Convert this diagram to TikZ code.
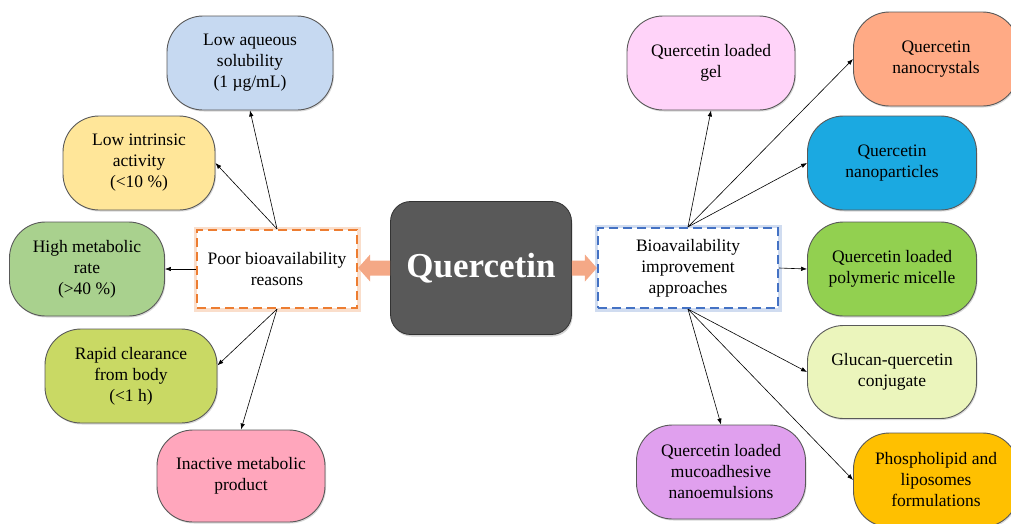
\documentclass[tikz,border=0pt]{standalone}
\usepackage{fontspec}
\setmainfont{Liberation Serif}
\usetikzlibrary{shadows,calc,arrows.meta}
\definecolor{aqc}{HTML}{C6D9F1}
\definecolor{lic}{HTML}{FFE699}
\definecolor{hmc}{HTML}{A9D18E}
\definecolor{rcc}{HTML}{C9D964}
\definecolor{imc}{HTML}{FFA6BC}
\definecolor{gelc}{HTML}{FFD3F9}
\definecolor{ncc}{HTML}{FFAA85}
\definecolor{npc}{HTML}{1BA9E1}
\definecolor{pmc}{HTML}{92D050}
\definecolor{gcc}{HTML}{EBF5BC}
\definecolor{muc}{HTML}{E0A0EE}
\definecolor{phc}{HTML}{FFC000}
\definecolor{darkc}{HTML}{595959}
\definecolor{orangec}{HTML}{ED7D31}
\definecolor{bluec}{HTML}{4472C4}
\definecolor{arrowc}{HTML}{F4A886}
\begin{document}
\begin{tikzpicture}[x=1pt,y=-1pt,
  leaf/.style={rounded corners=36pt, draw=black!65, line width=0.9pt, minimum height=94pt,
    align=center, font=\fontsize{17.5}{21}\selectfont, inner sep=2pt,
    drop shadow={opacity=0.3, shadow xshift=1pt, shadow yshift=-1.5pt}},
  dashbox/.style={fill=white, line width=2.2pt, dash pattern=on 9pt off 5pt,
    align=center, font=\fontsize{17.5}{21}\selectfont, inner sep=2pt},
  conn/.style={-{Latex[length=6pt,width=4.5pt]}, line width=0.6pt, black},
  barrow/.style={fill=arrowc}
]
\useasboundingbox (0,0) rectangle (1011,523);

% left leaves
\node[leaf, fill=aqc, minimum width=166pt] (aq) at (250,63) {Low aqueous\\solubility\\(1 µg/mL)};
\node[leaf, fill=lic, minimum width=152pt] (li) at (139,163) {Low intrinsic\\activity\\(<10 \%)};
\node[leaf, fill=hmc, minimum width=155pt] (hm) at (87,269) {High metabolic\\rate\\(>40 \%)};
\node[leaf, fill=rcc, minimum width=172pt] (rc) at (131,376) {Rapid clearance\\from body\\(<1 h)};
\node[leaf, fill=imc, minimum width=168pt, minimum height=92pt] (im) at (241,476) {Inactive metabolic\\product};

% right leaves
\node[leaf, fill=gelc, minimum width=168pt] (gel) at (711,63) {Quercetin loaded\\gel};
\node[leaf, fill=ncc, minimum width=165pt] (nc) at (936,59) {Quercetin\\nanocrystals};
\node[leaf, fill=npc, minimum width=169pt] (np) at (892,163) {Quercetin\\nanoparticles};
\node[leaf, fill=pmc, minimum width=169pt] (pm) at (892,269) {Quercetin loaded\\polymeric micelle};
\node[leaf, fill=gcc, minimum width=169pt, minimum height=93pt] (gc) at (892,372) {Glucan-quercetin\\conjugate};
\node[leaf, fill=muc, minimum width=169pt] (mu) at (721,472) {Quercetin loaded\\mucoadhesive\\nanoemulsions};
\node[leaf, fill=phc, minimum width=165pt] (ph) at (936,480) {Phospholipid and\\liposomes\\formulations};

% centre
\node[draw=black!80, line width=0.8pt, fill=darkc, rounded corners=20pt, minimum width=181pt,
  minimum height=133pt, text=white, font=\fontsize{35}{40}\selectfont\bfseries,
  drop shadow={opacity=0.35, shadow xshift=1pt, shadow yshift=-2pt}] (q) at (481,268) {Quercetin};

% dashed boxes
\node[dashbox, draw=orangec, minimum width=160pt, minimum height=78pt,
  preaction={draw=orangec, solid, line width=7pt, opacity=0.25}] (poor) at (277,269) {Poor bioavailability\\reasons};
\node[dashbox, draw=bluec, minimum width=180pt, minimum height=80pt,
  preaction={draw=bluec, solid, line width=7pt, opacity=0.25}] (ba) at (688,268) {Bioavailability\\improvement\\approaches};

% block arrows
\fill[barrow] ($(q.west)+(0,-7.5)$) -- ++(-20,0) -- ++(0,-6) -- ($(poor.east |- q.west)$)
  -- ($(q.west)+(-20,13.5)$) -- ++(0,-6) -- ($(q.west)+(0,7.5)$) -- cycle;
\fill[barrow] ($(q.east)+(0,-7.5)$) -- ++(13,0) -- ++(0,-6) -- ($(ba.west |- q.east)$)
  -- ($(q.east)+(13,13.5)$) -- ++(0,-6) -- ($(q.east)+(0,7.5)$) -- cycle;

% connectors left
\draw[conn] (poor.north) -- (aq.south);
\draw[conn] (poor.north) -- (li.east);
\draw[conn] (poor.west) -- (hm.east);
\draw[conn] (poor.south) -- (rc.7);
\draw[conn] (poor.south) -- (im.north);
% connectors right
\draw[conn] (ba.north) -- (gel.south);
\draw[conn] (ba.north) -- (nc.west);
\draw[conn] (ba.north) -- (np.west);
\draw[conn] (ba.east) -- (pm.west);
\draw[conn] (ba.south) -- (mu.north);
\draw[conn] (ba.south) -- (gc.west);
\draw[conn] (ba.south) -- (ph.west);
\end{tikzpicture}
\end{document}
